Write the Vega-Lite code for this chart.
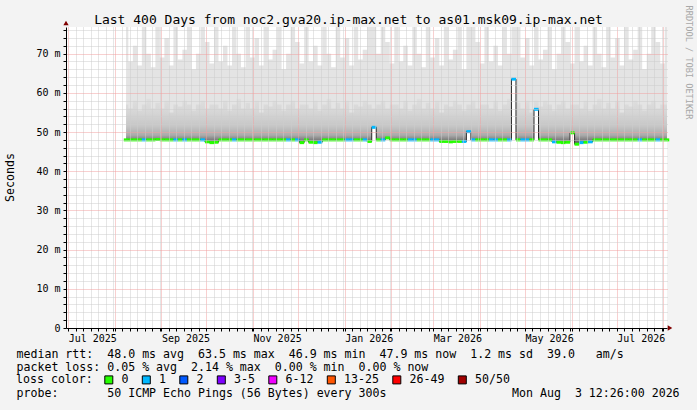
{
  "$schema": "https://vega.github.io/schema/vega-lite/v6.json",
  "width": 601,
  "height": 301,
  "autosize": {"type": "none"},
  "padding": {"left": 66, "top": 27, "right": 30, "bottom": 82},
  "background": "#f3f3f3",
  "config": {"view": {"stroke": null, "fill": "#ffffff"}, "font": "DejaVu Sans Mono"},
  "title": {
    "text": "Last 400 Days from noc2.gva20.ip-max.net to as01.msk09.ip-max.net",
    "font": "DejaVu Sans Mono",
    "fontSize": 13,
    "fontWeight": "normal",
    "color": "#000000",
    "anchor": "middle",
    "dx": -18,
    "offset": -22
  },
  "data": {
    "values": [
      {"t": "2025-08-08T12:00", "med": 48.0, "mid": 57, "top": 76.8, "loss": "0"},
      {"t": "2025-08-11T12:00", "med": 48.0, "mid": 56, "top": 68, "loss": "0"},
      {"t": "2025-08-14T12:00", "med": 48.0, "mid": 58, "top": 72, "loss": "0"},
      {"t": "2025-08-17T12:00", "med": 48.0, "mid": 55.5, "top": 67, "loss": "0"},
      {"t": "2025-08-20T12:00", "med": 48.0, "mid": 57, "top": 76.8, "loss": "1"},
      {"t": "2025-08-23T12:00", "med": 48.0, "mid": 58.5, "top": 70, "loss": "0"},
      {"t": "2025-08-26T12:00", "med": 48.0, "mid": 56, "top": 66.5, "loss": "0"},
      {"t": "2025-08-29T12:00", "med": 48.1, "mid": 57.5, "top": 76.8, "loss": "0"},
      {"t": "2025-09-01T12:00", "med": 48.0, "mid": 56, "top": 69, "loss": "0"},
      {"t": "2025-09-04T12:00", "med": 48.0, "mid": 58, "top": 74, "loss": "0"},
      {"t": "2025-09-07T12:00", "med": 48.0, "mid": 55, "top": 67, "loss": "0"},
      {"t": "2025-09-10T12:00", "med": 48.0, "mid": 57, "top": 76.8, "loss": "1"},
      {"t": "2025-09-13T12:00", "med": 48.0, "mid": 56.5, "top": 68.5, "loss": "0"},
      {"t": "2025-09-16T12:00", "med": 48.0, "mid": 58, "top": 71, "loss": "1"},
      {"t": "2025-09-19T12:00", "med": 48.0, "mid": 57, "top": 76.8, "loss": "0"},
      {"t": "2025-09-22T12:00", "med": 48.0, "mid": 55.5, "top": 66, "loss": "0"},
      {"t": "2025-09-25T12:00", "med": 48.0, "mid": 57, "top": 70, "loss": "0"},
      {"t": "2025-09-28T12:00", "med": 48.0, "mid": 58, "top": 76.8, "loss": "1"},
      {"t": "2025-10-01T12:00", "med": 47.5, "mid": 56, "top": 73, "loss": "0"},
      {"t": "2025-10-04T12:00", "med": 47.3, "mid": 57, "top": 67.5, "loss": "0"},
      {"t": "2025-10-07T12:00", "med": 47.4, "mid": 57, "top": 76.8, "loss": "0"},
      {"t": "2025-10-10T12:00", "med": 48.0, "mid": 56, "top": 68, "loss": "0"},
      {"t": "2025-10-13T12:00", "med": 48.0, "mid": 58, "top": 72, "loss": "0"},
      {"t": "2025-10-16T12:00", "med": 48.0, "mid": 55.5, "top": 67, "loss": "0"},
      {"t": "2025-10-19T12:00", "med": 48.0, "mid": 57, "top": 76.8, "loss": "1"},
      {"t": "2025-10-22T12:00", "med": 48.0, "mid": 58.5, "top": 70, "loss": "0"},
      {"t": "2025-10-25T12:00", "med": 48.0, "mid": 56, "top": 66.5, "loss": "0"},
      {"t": "2025-10-28T12:00", "med": 48.0, "mid": 57.5, "top": 76.8, "loss": "0"},
      {"t": "2025-10-31T12:00", "med": 48.0, "mid": 56, "top": 69, "loss": "0"},
      {"t": "2025-11-03T12:00", "med": 48.0, "mid": 58, "top": 74, "loss": "0"},
      {"t": "2025-11-06T12:00", "med": 48.0, "mid": 55, "top": 67, "loss": "0"},
      {"t": "2025-11-09T12:00", "med": 48.0, "mid": 57, "top": 76.8, "loss": "0"},
      {"t": "2025-11-12T12:00", "med": 48.0, "mid": 56.5, "top": 68.5, "loss": "0"},
      {"t": "2025-11-15T12:00", "med": 48.0, "mid": 58, "top": 71, "loss": "0"},
      {"t": "2025-11-18T12:00", "med": 48.0, "mid": 57, "top": 76.8, "loss": "0"},
      {"t": "2025-11-21T12:00", "med": 48.0, "mid": 55.5, "top": 66, "loss": "0"},
      {"t": "2025-11-24T12:00", "med": 48.0, "mid": 57, "top": 70, "loss": "1"},
      {"t": "2025-11-27T12:00", "med": 48.0, "mid": 58, "top": 76.8, "loss": "0"},
      {"t": "2025-11-30T12:00", "med": 48.0, "mid": 56, "top": 73, "loss": "1"},
      {"t": "2025-12-03T12:00", "med": 47.3, "mid": 57, "top": 67.5, "loss": "0"},
      {"t": "2025-12-06T12:00", "med": 48.0, "mid": 57, "top": 76.8, "loss": "0"},
      {"t": "2025-12-09T12:00", "med": 47.4, "mid": 56, "top": 68, "loss": "0"},
      {"t": "2025-12-12T12:00", "med": 47.3, "mid": 58, "top": 72, "loss": "0"},
      {"t": "2025-12-15T12:00", "med": 47.4, "mid": 55.5, "top": 67, "loss": "1"},
      {"t": "2025-12-18T12:00", "med": 48.0, "mid": 57, "top": 76.8, "loss": "0"},
      {"t": "2025-12-21T12:00", "med": 48.0, "mid": 58.5, "top": 70, "loss": "0"},
      {"t": "2025-12-24T12:00", "med": 48.0, "mid": 56, "top": 66.5, "loss": "0"},
      {"t": "2025-12-27T12:00", "med": 48.0, "mid": 57.5, "top": 76.8, "loss": "0"},
      {"t": "2025-12-30T12:00", "med": 48.0, "mid": 56, "top": 69, "loss": "0"},
      {"t": "2026-01-02T12:00", "med": 48.0, "mid": 58, "top": 74, "loss": "1"},
      {"t": "2026-01-05T12:00", "med": 48.0, "mid": 55, "top": 67, "loss": "1"},
      {"t": "2026-01-08T12:00", "med": 48.0, "mid": 57, "top": 76.8, "loss": "0"},
      {"t": "2026-01-11T12:00", "med": 48.0, "mid": 56.5, "top": 68.5, "loss": "0"},
      {"t": "2026-01-14T12:00", "med": 48.0, "mid": 58, "top": 71, "loss": "1"},
      {"t": "2026-01-17T12:00", "med": 47.6, "mid": 57, "top": 76.8, "loss": "0"},
      {"t": "2026-01-20T12:00", "med": 51.2, "mid": 56, "top": 76.8, "loss": "1"},
      {"t": "2026-01-23T12:00", "med": 48.0, "mid": 57, "top": 70, "loss": "0"},
      {"t": "2026-01-26T12:00", "med": 48.0, "mid": 58, "top": 76.8, "loss": "1"},
      {"t": "2026-01-29T12:00", "med": 48.5, "mid": 56, "top": 73, "loss": "0"},
      {"t": "2026-02-01T12:00", "med": 48.0, "mid": 57, "top": 67.5, "loss": "0"},
      {"t": "2026-02-04T12:00", "med": 48.0, "mid": 57, "top": 76.8, "loss": "0"},
      {"t": "2026-02-07T12:00", "med": 48.0, "mid": 56, "top": 68, "loss": "0"},
      {"t": "2026-02-10T12:00", "med": 48.0, "mid": 58, "top": 72, "loss": "0"},
      {"t": "2026-02-13T12:00", "med": 48.0, "mid": 55.5, "top": 67, "loss": "1"},
      {"t": "2026-02-16T12:00", "med": 48.0, "mid": 57, "top": 76.8, "loss": "1"},
      {"t": "2026-02-19T12:00", "med": 48.0, "mid": 58.5, "top": 70, "loss": "0"},
      {"t": "2026-02-22T12:00", "med": 48.0, "mid": 56, "top": 66.5, "loss": "0"},
      {"t": "2026-02-25T12:00", "med": 48.0, "mid": 57.5, "top": 76.8, "loss": "0"},
      {"t": "2026-02-28T12:00", "med": 48.0, "mid": 56, "top": 69, "loss": "1"},
      {"t": "2026-03-03T12:00", "med": 48.0, "mid": 58, "top": 74, "loss": "1"},
      {"t": "2026-03-06T12:00", "med": 47.6, "mid": 55, "top": 67, "loss": "0"},
      {"t": "2026-03-09T12:00", "med": 47.6, "mid": 57, "top": 76.8, "loss": "0"},
      {"t": "2026-03-12T12:00", "med": 47.5, "mid": 56.5, "top": 68.5, "loss": "0"},
      {"t": "2026-03-15T12:00", "med": 47.6, "mid": 58, "top": 71, "loss": "0"},
      {"t": "2026-03-18T12:00", "med": 47.6, "mid": 57, "top": 76.8, "loss": "0"},
      {"t": "2026-03-21T12:00", "med": 47.6, "mid": 55.5, "top": 66, "loss": "1"},
      {"t": "2026-03-24T12:00", "med": 50.1, "mid": 57, "top": 76.8, "loss": "1"},
      {"t": "2026-03-27T12:00", "med": 48.0, "mid": 58, "top": 76.8, "loss": "1"},
      {"t": "2026-03-30T12:00", "med": 48.0, "mid": 56, "top": 73, "loss": "0"},
      {"t": "2026-04-02T12:00", "med": 48.0, "mid": 57, "top": 67.5, "loss": "0"},
      {"t": "2026-04-05T12:00", "med": 48.0, "mid": 57, "top": 76.8, "loss": "0"},
      {"t": "2026-04-08T12:00", "med": 48.0, "mid": 56, "top": 68, "loss": "1"},
      {"t": "2026-04-11T12:00", "med": 48.0, "mid": 58, "top": 72, "loss": "1"},
      {"t": "2026-04-14T12:00", "med": 48.0, "mid": 55.5, "top": 67, "loss": "0"},
      {"t": "2026-04-17T12:00", "med": 48.0, "mid": 57, "top": 76.8, "loss": "0"},
      {"t": "2026-04-20T12:00", "med": 48.0, "mid": 58.5, "top": 70, "loss": "1"},
      {"t": "2026-04-23T12:00", "med": 63.5, "mid": 65, "top": 76.8, "loss": "1"},
      {"t": "2026-04-26T12:00", "med": 48.0, "mid": 57.5, "top": 76.8, "loss": "0"},
      {"t": "2026-04-29T12:00", "med": 48.0, "mid": 56, "top": 69, "loss": "1"},
      {"t": "2026-05-02T12:00", "med": 48.0, "mid": 58, "top": 74, "loss": "1"},
      {"t": "2026-05-05T12:00", "med": 48.0, "mid": 55, "top": 67, "loss": "0"},
      {"t": "2026-05-08T12:00", "med": 55.8, "mid": 58, "top": 76.8, "loss": "1"},
      {"t": "2026-05-11T12:00", "med": 48.0, "mid": 56.5, "top": 68.5, "loss": "0"},
      {"t": "2026-05-14T12:00", "med": 48.0, "mid": 58, "top": 71, "loss": "0"},
      {"t": "2026-05-17T12:00", "med": 48.0, "mid": 57, "top": 76.8, "loss": "0"},
      {"t": "2026-05-20T12:00", "med": 47.5, "mid": 55.5, "top": 66, "loss": "1"},
      {"t": "2026-05-23T12:00", "med": 47.4, "mid": 57, "top": 70, "loss": "0"},
      {"t": "2026-05-26T12:00", "med": 47.3, "mid": 58, "top": 76.8, "loss": "0"},
      {"t": "2026-05-29T12:00", "med": 47.4, "mid": 56, "top": 73, "loss": "0"},
      {"t": "2026-06-01T12:00", "med": 49.8, "mid": 57, "top": 67.5, "loss": "0"},
      {"t": "2026-06-04T12:00", "med": 46.9, "mid": 57, "top": 76.8, "loss": "0"},
      {"t": "2026-06-07T12:00", "med": 47.3, "mid": 56, "top": 68, "loss": "1"},
      {"t": "2026-06-10T12:00", "med": 47.4, "mid": 58, "top": 72, "loss": "0"},
      {"t": "2026-06-13T12:00", "med": 47.5, "mid": 55.5, "top": 67, "loss": "1"},
      {"t": "2026-06-16T12:00", "med": 48.0, "mid": 57, "top": 76.8, "loss": "0"},
      {"t": "2026-06-19T12:00", "med": 48.0, "mid": 58.5, "top": 70, "loss": "0"},
      {"t": "2026-06-22T12:00", "med": 48.0, "mid": 56, "top": 66.5, "loss": "0"},
      {"t": "2026-06-25T12:00", "med": 48.0, "mid": 57.5, "top": 76.8, "loss": "0"},
      {"t": "2026-06-28T12:00", "med": 48.0, "mid": 56, "top": 69, "loss": "0"},
      {"t": "2026-07-01T12:00", "med": 48.0, "mid": 58, "top": 74, "loss": "0"},
      {"t": "2026-07-04T12:00", "med": 48.0, "mid": 55, "top": 67, "loss": "0"},
      {"t": "2026-07-07T12:00", "med": 48.0, "mid": 57, "top": 76.8, "loss": "0"},
      {"t": "2026-07-10T12:00", "med": 48.0, "mid": 56.5, "top": 68.5, "loss": "0"},
      {"t": "2026-07-13T12:00", "med": 48.0, "mid": 58, "top": 71, "loss": "0"},
      {"t": "2026-07-16T12:00", "med": 48.0, "mid": 57, "top": 76.8, "loss": "1"},
      {"t": "2026-07-19T12:00", "med": 48.0, "mid": 55.5, "top": 66, "loss": "0"},
      {"t": "2026-07-22T12:00", "med": 48.0, "mid": 57, "top": 70, "loss": "0"},
      {"t": "2026-07-25T12:00", "med": 48.0, "mid": 58, "top": 76.8, "loss": "0"},
      {"t": "2026-07-28T12:00", "med": 48.0, "mid": 56, "top": 73, "loss": "1"},
      {"t": "2026-07-31T12:00", "med": 48.0, "mid": 57, "top": 67.5, "loss": "0"},
      {"t": "2026-08-03T12:00", "med": 48.0, "mid": 57, "top": 76.8, "loss": "0"}
    ]
  },
  "resolve": {"axis": {"y": "independent"}},
  "layer": [
    {
      "mark": {"type": "area", "interpolate": "step", "color": "#e4e4e4"},
      "encoding": {
        "x": {
          "field": "t",
          "type": "temporal",
          "scale": {"domain": [{"year": 2025, "month": 6, "date": 29, "hours": 12, "minutes": 26}, {"year": 2026, "month": 8, "date": 3, "hours": 12, "minutes": 26}], "nice": false},
          "axis": {
            "tickCount": {"interval": "day", "step": 5},
            "labelExpr": "date(datum.value) == 1 && month(datum.value) % 2 == 0 ? timeFormat(datum.value, '%b %Y') : ''",
            "labelAlign": "left",
            "labelFlush": false,
            "labelOverlap": false,
            "labelBound": false,
            "labelFont": "DejaVu Sans Mono",
            "labelFontSize": 10,
            "labelColor": "#000000",
            "labelPadding": 2,
            "tickSize": 3,
            "tickColor": "#000000",
            "domainColor": "#000000",
            "gridColor": {"condition": {"test": "date(datum.value) == 1", "value": "#f0a0a0"}, "value": "#cccccc"},
            "gridDash": [1, 1],
            "zindex": 1,
            "title": [
              "median rtt:\u00a0\u00a048.0 ms avg\u00a0\u00a063.5 ms max\u00a0\u00a046.9 ms min\u00a0\u00a047.9 ms now\u00a0\u00a01.2 ms sd\u00a0\u00a039.0\u00a0\u00a0\u00a0am/s",
              "packet loss: 0.05 % avg\u00a0\u00a02.14 % max\u00a0\u00a00.00 % min\u00a0\u00a00.00 % now",
              "\u200b",
              "probe:\u00a0\u00a0\u00a0\u00a0\u00a0\u00a0\u00a050 ICMP Echo Pings (56 Bytes) every 300s\u00a0\u00a0\u00a0\u00a0\u00a0\u00a0\u00a0\u00a0\u00a0\u00a0\u00a0\u00a0\u00a0\u00a0\u00a0\u00a0\u00a0\u00a0Mon Aug\u00a0\u00a03 12:26:00 2026"
            ],
            "titleFont": "DejaVu Sans Mono",
            "titleFontSize": 11.6,
            "titleFontWeight": "normal",
            "titleColor": "#000000",
            "titleLineHeight": 13,
            "titleAlign": "left",
            "titleAnchor": "start",
            "titleBaseline": "top",
            "titleX": -50,
            "titleY": 20
          }
        },
        "y": {
          "field": "med",
          "type": "quantitative",
          "scale": {"domain": [0, 76.8], "nice": false, "zero": false},
          "axis": {
            "values": [0, 2, 4, 6, 8, 10, 12, 14, 16, 18, 20, 22, 24, 26, 28, 30, 32, 34, 36, 38, 40, 42, 44, 46, 48, 50, 52, 54, 56, 58, 60, 62, 64, 66, 68, 70, 72, 74, 76],
            "labelExpr": "datum.value % 10 == 0 ? (datum.value == 0 ? '0' : datum.value + ' m') : ''",
            "labelFont": "DejaVu Sans Mono",
            "labelFontSize": 10,
            "labelColor": "#000000",
            "labelPadding": 3,
            "labelOverlap": false,
            "tickSize": 3,
            "tickColor": "#000000",
            "domainColor": "#000000",
            "gridColor": {"condition": {"test": "datum.value % 10 == 0", "value": "#f0a0a0"}, "value": "#cccccc"},
            "gridOpacity": {"condition": {"test": "datum.value == 0", "value": 0}, "value": 1},
            "gridDash": [1, 1],
            "zindex": 1,
            "title": "Seconds",
            "titleFont": "DejaVu Sans Mono",
            "titleFontSize": 11.6,
            "titleFontWeight": "normal",
            "titleColor": "#000000",
            "titleAngle": -90,
            "titleAlign": "center",
            "titleBaseline": "middle",
            "titleX": -56,
            "titleY": 150
          }
        },
        "y2": {"field": "top"}
      }
    },
    {
      "mark": {
        "type": "area",
        "interpolate": "step",
        "color": {
          "gradient": "linear",
          "x1": 0, "y1": 1, "x2": 0, "y2": 0,
          "stops": [
            {"offset": 0, "color": "#505050"},
            {"offset": 0.072, "color": "#858585"},
            {"offset": 0.127, "color": "#ababab"},
            {"offset": 0.254, "color": "#c6c6c6"},
            {"offset": 0.45, "color": "#d6d6d6"},
            {"offset": 0.67, "color": "#e0e0e0"},
            {"offset": 1, "color": "#e4e4e4"}
          ]
        }
      },
      "encoding": {
        "x": {"field": "t", "type": "temporal"},
        "y": {"field": "med", "type": "quantitative", "scale": {"domain": [0, 76.8], "nice": false, "zero": false}, "axis": null},
        "y2": {"field": "mid"}
      }
    },
    {
      "mark": {"type": "line", "interpolate": "step", "color": "#2a2a2a", "strokeWidth": 1},
      "encoding": {
        "x": {"field": "t", "type": "temporal"},
        "y": {
          "field": "med",
          "type": "quantitative",
          "scale": {"domain": [0, 76.8], "nice": false, "zero": false},
          "axis": {
            "orient": "right",
            "labels": false,
            "ticks": false,
            "domain": false,
            "grid": false,
            "title": "RRDTOOL / TOBI OETIKER",
            "titleFont": "DejaVu Sans Mono",
            "titleFontSize": 8.6,
            "titleFontWeight": "normal",
            "titleColor": "#a8a8a8",
            "titleAngle": 90,
            "titleAlign": "center",
            "titleBaseline": "middle",
            "titleX": 21,
            "titleY": 35
          }
        }
      }
    },
    {
      "mark": {"type": "tick", "orient": "horizontal", "size": 4.6, "thickness": 3, "opacity": 1},
      "encoding": {
        "x": {"field": "t", "type": "temporal"},
        "y": {"field": "med", "type": "quantitative", "scale": {"domain": [0, 76.8], "nice": false, "zero": false}, "axis": null},
        "color": {
          "field": "loss",
          "type": "nominal",
          "scale": {
            "domain": ["0", "1", "2", "3-5", "6-12", "13-25", "26-49", "50/50"],
            "range": ["#26ff00", "#00b8ff", "#0059ff", "#7e00ff", "#f000ff", "#ff5500", "#ff0000", "#a10000"]
          },
          "legend": {
            "orient": "none",
            "legendX": -50,
            "legendY": 347,
            "direction": "horizontal",
            "title": "loss color:",
            "titleOrient": "left",
            "titleFont": "DejaVu Sans Mono",
            "titleFontSize": 11.6,
            "titleFontWeight": "normal",
            "titleColor": "#000000",
            "titlePadding": 10,
            "labelFont": "DejaVu Sans Mono",
            "labelFontSize": 11.6,
            "labelColor": "#000000",
            "labelOffset": 7,
            "columnPadding": 10.5,
            "symbolType": "square",
            "symbolSize": 64,
            "symbolStrokeColor": "#000000",
            "symbolStrokeWidth": 1,
            "symbolOpacity": 1
          }
        }
      }
    },
    {
      "data": {"values": [{}]},
      "mark": {"type": "point", "shape": "triangle-right", "filled": true, "color": "#800000", "size": 28, "opacity": 1},
      "encoding": {
        "x": {"datum": {"year": 2026, "month": 8, "date": 5, "hours": 12}, "type": "temporal"},
        "y": {"datum": 0, "type": "quantitative", "scale": {"domain": [0, 76.8], "nice": false, "zero": false}, "axis": null}
      }
    },
    {
      "data": {"values": [{}]},
      "mark": {"type": "point", "shape": "triangle-up", "filled": true, "color": "#800000", "size": 28, "opacity": 1},
      "encoding": {
        "x": {"datum": {"year": 2025, "month": 6, "date": 29, "hours": 12, "minutes": 26}, "type": "temporal"},
        "y": {"datum": 77.8, "type": "quantitative", "scale": {"domain": [0, 76.8], "nice": false, "zero": false}, "axis": null}
      }
    }
  ]
}
